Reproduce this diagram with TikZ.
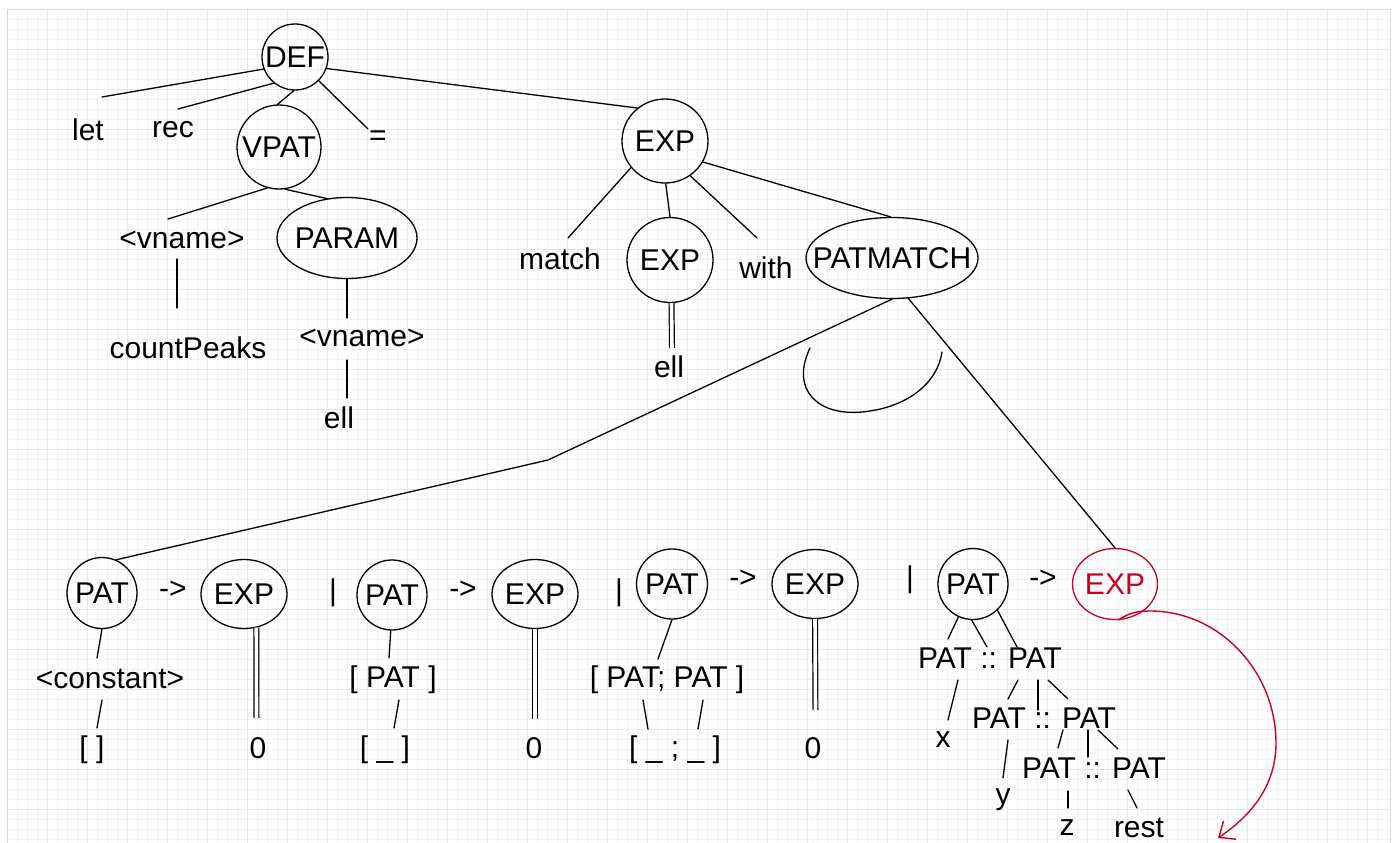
\documentclass[tikz,border=0pt]{standalone}
\usepackage{fontspec}
\setmainfont{Liberation Sans}
\usetikzlibrary{shapes.geometric, arrows.meta}

\definecolor{hotred}{RGB}{204,0,31}
\newcommand{\nowidth}[1]{\makebox[0pt]{#1}}

\tikzset{
  wire/.style={line width=1.3pt, line cap=round},
  dbl/.style={line width=1.2pt, double distance=3.6pt},
  bubble/.style n args={2}{ellipse, draw, line width=1.3pt, inner sep=0pt,
    minimum width=#1, minimum height=#2},
  word/.style={inner sep=0pt},
  hot/.style={draw=hotred, text=hotred},
  gridminor/.style={line width=0.7pt, black!5},
  gridmajor/.style={line width=0.8pt, black!9},
}

\begin{document}
\begin{tikzpicture}[x=1pt, y=-1pt, font=\fontsize{30}{36}\selectfont]
\useasboundingbox (0,0) rectangle (1395,843);
\fill[white] (0,0) rectangle (1395,843);

% background grid of the canvas
\foreach \gx in {7,17,...,1390} \draw[gridminor] (\gx,9) -- (\gx,843);
\foreach \gy in {9,19,...,843} \draw[gridminor] (7,\gy) -- (1390,\gy);
\foreach \gx in {7,47,...,1390} \draw[gridmajor] (\gx,9) -- (\gx,843);
\foreach \gy in {9,49,...,843} \draw[gridmajor] (7,\gy) -- (1390,\gy);
\draw[line width=0.8pt, black!4, dashed, dash pattern=on 5pt off 5pt] (241,9) -- (241,843);
\draw[line width=0.8pt, black!4, dashed, dash pattern=on 5pt off 5pt] (812,9) -- (812,843);
\draw[line width=0.8pt, black!15] (7,843) -- (7,9) -- (1390,9) -- (1390,843);

% ---------- definition head ----------
\node[bubble={66pt}{66pt}] (def) at (295,57) {\nowidth{DEF}};
\node[word] (let) at (88,130) {let};
\node[word] (rec) at (173,130) {rec};
\node[bubble={84pt}{84pt}] (vpat) at (279,147) {\nowidth{VPAT}};
\node[word] (eq) at (378,138) {=};
\node[word] (vn1) at (182,240) {<vname>};
\node[bubble={140pt}{81pt}] (param) at (347,238) {\nowidth{PARAM}};
\node[word] (cp) at (188,348) {countPeaks};
\node[word] (vn2) at (362,338) {<vname>};
\node[word] (ell1) at (339,418) {ell};

\coordinate (kLet) at (102,97);
\coordinate (kRec) at (178,109);
\coordinate (kEq) at (368,129);
\coordinate (kVn1) at (168,219);
\coordinate (kVn1a) at (177,259);
\coordinate (kCp) at (177,308);
\coordinate (kVn2) at (347,318);
\coordinate (kVn2a) at (347,360);
\coordinate (kEll1) at (347,398);

\draw[wire] (def.201) -- (kLet);
\draw[wire] (def.231) -- (kRec);
\draw[wire] (def.268) -- (vpat.92);
\draw[wire] (def.315) -- (kEq);
\draw[wire] (vpat.254) -- (kVn1);
\draw[wire] (vpat.278) -- (param.117);
\draw[wire] (kVn1a) -- (kCp);
\draw[wire] (param.270) -- (kVn2);
\draw[wire] (kVn2a) -- (kEll1);

% ---------- match expression ----------
\node[bubble={86pt}{84pt}] (exp) at (665,141) {\nowidth{EXP}};
\node[word] (match) at (560,259) {match};
\node[bubble={86pt}{85pt}] (expm) at (670,260) {\nowidth{EXP}};
\node[word] (with) at (766,268) {with};
\node[bubble={172pt}{81pt}] (patmatch) at (892,258) {\nowidth{PATMATCH}};
\node[word] (ell2) at (669,367) {ell};

\coordinate (kMatch) at (568,238);
\coordinate (kWith) at (757,238);
\coordinate (kEll2) at (672,348);
\coordinate (kBend) at (548,460);

\draw[wire] (def.340) -- (exp.130);
\draw[wire] (exp.218) -- (kMatch);
\draw[wire] (exp.271) -- (expm.90);
\draw[wire] (exp.306) -- (kWith);
\draw[wire] (exp.331) -- (patmatch.92);
\draw[dbl] (expm.272) -- (kEll2);

% loose arc under PATMATCH
\draw[wire] (810,348) .. controls (790,390) and (818,416) .. (862,412)
            .. controls (905,408) and (937,385) .. (942,352);

% ---------- pattern-matching cases ----------
\node[bubble={70pt}{71pt}] (pat1) at (102,593) {\nowidth{PAT}};
\node[word] (ar1) at (173,590) {->};
\node[bubble={86pt}{69pt}] (exp1) at (244,594) {\nowidth{EXP}};
\node[word] (bar1) at (333,593) {|};
\node[bubble={70pt}{70pt}] (pat2) at (392,595) {\nowidth{PAT}};
\node[word] (ar2) at (463,590) {->};
\node[bubble={86pt}{69pt}] (exp2) at (535,594) {\nowidth{EXP}};
\node[word] (bar2) at (619,593) {|};
\node[bubble={71pt}{70pt}] (pat3) at (672,584) {\nowidth{PAT}};
\node[word] (ar3) at (743,579) {->};
\node[bubble={86pt}{69pt}] (exp3) at (815,584) {\nowidth{EXP}};
\node[word] (bar3) at (910,580) {|};
\node[bubble={70pt}{71pt}] (pat4) at (973,584) {\nowidth{PAT}};
\node[word] (ar4) at (1043,579) {->};
\node[bubble={85pt}{71pt}, hot] (exp4) at (1115,584) {\nowidth{EXP}};

\node[word] (con) at (110,679) {<constant>};
\node[word] (emp) at (92,750) {[ ]};
\node[word] (zero1) at (258,748) {0};
\node[word] (lp) at (393,680) {[ PAT ]};
\node[word] (lw) at (385,750) {[ \_ ]};
\node[word] (zero2) at (534,748) {0};
\node[word] (lpp) at (667,680) {[ PAT; PAT ]};
\node[word] (lww) at (675,750) {[ \_ ; \_ ]};
\node[word] (zero3) at (813,748) {0};

\node[word] (cons1) at (990,658) {PAT :: PAT};
\node[word] (vx) at (943,740) {x};
\node[word] (cons2) at (1044,718) {PAT :: PAT};
\node[word] (vy) at (1003,800) {y};
\node[word] (cons3) at (1094,768) {PAT :: PAT};
\node[word] (vz) at (1067,828) {z};
\node[word] (vrest) at (1139,828) {rest};

% case connectors
\draw[wire] (patmatch.270) -- (kBend) -- (pat1.67);
\draw[wire] (patmatch.292) -- (exp4.90);

\coordinate (kCon) at (97,658);
\coordinate (kConA) at (102,700);
\coordinate (kEmp) at (97,728);
\coordinate (kZero1) at (256.5,718);
\coordinate (kLp) at (389,658);
\coordinate (kLpA) at (399,700);
\coordinate (kLw) at (394,728);
\coordinate (kZero2) at (535,719);
\coordinate (kLpp) at (658,659);
\coordinate (kLppA) at (643,700);
\coordinate (kLwwA) at (648,729);
\coordinate (kLppB) at (703,700);
\coordinate (kLwwB) at (698,729);
\coordinate (kZero3) at (815.5,710);

\draw[wire] (pat1.270) -- (kCon);
\draw[wire] (kConA) -- (kEmp);
\draw[dbl] (exp1.290) -- (kZero1);
\draw[wire] (pat2.268) -- (kLp);
\draw[wire] (kLpA) -- (kLw);
\draw[dbl] (exp2.270) -- (kZero2);
\draw[wire] (pat3.270) -- (kLpp);
\draw[wire] (kLppA) -- (kLwwA);
\draw[wire] (kLppB) -- (kLwwB);
\draw[dbl] (exp3.270) -- (kZero3);

% cons pattern breakdown
\coordinate (kC1a) at (948,639);
\coordinate (kC1b) at (987,647);
\coordinate (kC1c) at (1017,647);
\coordinate (kXa) at (958,680);
\coordinate (kXb) at (948,720);
\coordinate (kC2a1) at (1018,680);
\coordinate (kC2a2) at (1008,699);
\coordinate (kC2b1) at (1038,680);
\coordinate (kC2b2) at (1038,710);
\coordinate (kC2c1) at (1048,680);
\coordinate (kC2c2) at (1068,699);
\coordinate (kYa) at (1008,740);
\coordinate (kYb) at (1003,778);
\coordinate (kC3a1) at (1063,730);
\coordinate (kC3a2) at (1058,748);
\coordinate (kC3b1) at (1088,730);
\coordinate (kC3b2) at (1088,757);
\coordinate (kC3c1) at (1098,730);
\coordinate (kC3c2) at (1118,749);
\coordinate (kZa) at (1068,791);
\coordinate (kZb) at (1068,808);
\coordinate (kRa) at (1128,790);
\coordinate (kRb) at (1137,808);

\draw[wire] (pat4.246) -- (kC1a);
\draw[wire] (pat4.268) -- (kC1b);
\draw[wire] (pat4.313) -- (kC1c);
\draw[wire] (kXa) -- (kXb);
\draw[wire] (kC2a1) -- (kC2a2);
\draw[wire] (kC2b1) -- (kC2b2);
\draw[wire] (kC2c1) -- (kC2c2);
\draw[wire] (kYa) -- (kYb);
\draw[wire] (kC3a1) -- (kC3a2);
\draw[wire] (kC3b1) -- (kC3b2);
\draw[wire] (kC3c1) -- (kC3c2);
\draw[wire] (kZa) -- (kZb);
\draw[wire] (kRa) -- (kRb);

% red continuation arrow
\coordinate (kTip) at (1218,838);
\draw[line width=1.4pt, hotred, -{Straight Barb[length=13pt, width=22pt, line width=1.4pt]}]
  (exp4.275) .. controls (1130,612) and (1140,611) .. (1150,611)
  .. controls (1220,611) and (1276,672) .. (1276,743)
  .. controls (1276,785) and (1252,815) .. (kTip);
\end{tikzpicture}
\end{document}
